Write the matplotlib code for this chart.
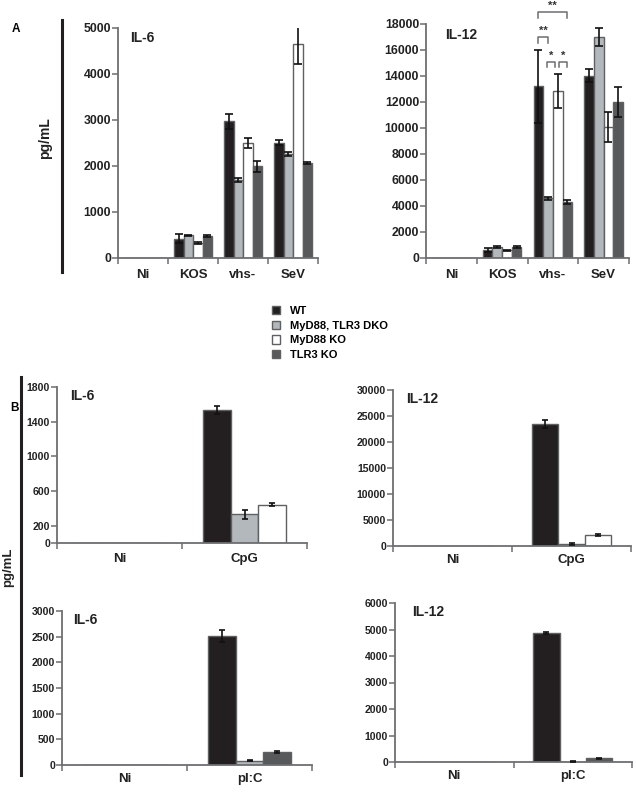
import numpy as np
import matplotlib
matplotlib.use("Agg")
import matplotlib.pyplot as plt
from matplotlib.patches import Patch

plt.rcParams['font.family'] = ['Liberation Sans', 'DejaVu Sans']
plt.rcParams['font.weight'] = 'bold'

# ---------------- data ----------------
genotypes = ["WT", "MyD88, TLR3 DKO", "MyD88 KO", "TLR3 KO"]
colors = ["#231f20", "#b3b8bc", "#ffffff", "#58595b"]

catA = ["Ni", "KOS", "vhs-", "SeV"]
a_il6 = [[0, 0, 0, 0], [420, 490, 320, 480], [2970, 1700, 2500, 1990], [2510, 2260, 4650, 2060]]
a_il6_err = [[0, 0, 0, 0], [100, 20, 20, 20], [160, 50, 100, 120], [50, 50, 430, 25]]
a_il12 = [[0, 0, 0, 0], [590, 840, 590, 840], [13200, 4600, 12850, 4320], [14000, 17000, 10050, 12020]]
a_il12_err = [[0, 0, 0, 0], [150, 50, 50, 50], [2800, 120, 1300, 150], [500, 700, 1150, 1150]]

catB1 = ["Ni", "CpG"]
b1_geno = [0, 1, 2]
b1_il6 = [[0, 0, 0], [1532, 330, 444]]
b1_il6_err = [[0, 0, 0], [45, 55, 22]]
b1_il12 = [[0, 0, 0], [23500, 420, 2050]]
b1_il12_err = [[0, 0, 0], [800, 180, 200]]

catB2 = ["Ni", "pI:C"]
b2_geno = [0, 1, 3]
b2_il6 = [[0, 0, 0], [2520, 80, 250]]
b2_il6_err = [[0, 0, 0], [115, 10, 15]]
b2_il12 = [[0, 0, 0], [4880, 15, 140]]
b2_il12_err = [[0, 0, 0], [35, 5, 15]]

W, H = 636, 797
fig = plt.figure(figsize=(W / 100, H / 100), dpi=100)

SPINE = "#6d6e71"


def rect(l, r, t, b):
    return [l / W, 1 - b / H, (r - l) / W, (b - t) / H]


def panel(r, cats, vals, errs, geno_idx, width, ymax, yticks, title, title_dx,
          tick_fs, cat_fs, cap, cat_pad):
    ax = fig.add_axes(rect(*r))
    vals = np.array(vals, float)
    errs = np.array(errs, float)
    n = len(geno_idx)
    x = np.arange(len(cats))
    for j, g in enumerate(geno_idx):
        pos = x + (j - (n - 1) / 2) * width
        ax.bar(pos, vals[:, j], width=width, color=colors[g], edgecolor="#5f6062",
               linewidth=1.0, zorder=2)
        m = vals[:, j] > 0
        ax.errorbar(pos[m], vals[m, j], yerr=errs[m, j], fmt="none", ecolor="#111111",
                    elinewidth=1.2, capsize=cap, capthick=1.2, zorder=3)
    ax.set_xlim(-0.5, len(cats) - 0.5)
    ax.set_ylim(0, ymax)
    ax.set_yticks(yticks)
    ax.set_yticklabels([str(t) for t in yticks], fontsize=tick_fs, fontweight="bold",
                       color="#222222")
    ax.set_xticks(x)
    ax.set_xticklabels(cats, fontsize=cat_fs, fontweight="bold", color="#222222")
    ax.set_xticks(np.arange(len(cats) + 1) - 0.5, minor=True)
    ax.tick_params(axis="x", which="major", length=0, pad=cat_pad)
    ax.tick_params(axis="x", which="minor", length=4, width=1.1, color=SPINE)
    ax.tick_params(axis="y", length=4, width=1.1, color=SPINE, pad=1)
    for s in ["top", "right"]:
        ax.spines[s].set_visible(False)
    for s in ["left", "bottom"]:
        ax.spines[s].set_color(SPINE)
        ax.spines[s].set_linewidth(1.3)
    ax.set_facecolor("none")
    ax.text(title_dx / (r[1] - r[0]), 0.985, title, transform=ax.transAxes,
            fontsize=cat_fs + 0.5, fontweight="bold", va="top", ha="left", color="#222222")
    return ax


axA1 = panel((118, 318, 28, 258), catA, a_il6, a_il6_err, [0, 1, 2, 3], 0.19, 5000,
             [0, 1000, 2000, 3000, 4000, 5000], "IL-6", 12, 8.8, 9.5, 3, 8)
axA2 = panel((426, 629, 24, 258), catA, a_il12, a_il12_err, [0, 1, 2, 3], 0.19, 18000,
             list(range(0, 18001, 2000)), "IL-12", 19, 8.8, 9.5, 3, 8)
axB1 = panel((57, 307, 387, 543), catB1, b1_il6, b1_il6_err, b1_geno, 0.222, 1800,
             [0, 200, 600, 1000, 1400, 1800], "IL-6", 13, 7.6, 9.5, 2, 7)
axB2 = panel((393, 631, 390, 546), catB1, b1_il12, b1_il12_err, b1_geno, 0.222, 30000,
             list(range(0, 30001, 5000)), "IL-12", 13, 7.6, 9.5, 2, 6)
axB3 = panel((62, 312, 611, 765), catB2, b2_il6, b2_il6_err, b2_geno, 0.222, 3000,
             list(range(0, 3001, 500)), "IL-6", 11, 7.6, 9.5, 2, 6)
axB4 = panel((395, 632, 603, 762), catB2, b2_il12, b2_il12_err, b2_geno, 0.222, 6000,
             list(range(0, 6001, 1000)), "IL-12", 17, 7.6, 9.5, 2, 6)

# significance brackets on IL-12 vhs-
w = 0.19
c = 2 + (np.arange(4) - 1.5) * w
brackets = [(c[0], c[3], 18900, 18450, "**"),
            (c[0], c[1], 17000, 16550, "**"),
            (c[1] - 0.02, c[2] - 0.05, 15080, 14700, "*"),
            (c[2] + 0.02, c[3], 15080, 14700, "*")]
for x0, x1, ytop, ybot, s in brackets:
    axA2.plot([x0, x0, x1, x1], [ybot, ytop, ytop, ybot], color="#6d6e71", lw=1.1,
              clip_on=False)
    axA2.text((x0 + x1) / 2, ytop + 100, s, ha="center", va="bottom", fontsize=8,
              fontweight="bold", color="#333333", clip_on=False)

# side lines, labels
fig.add_artist(plt.Line2D([62 / W, 62 / W], [1 - 20 / H, 1 - 272 / H], color="#231f20", lw=2.2))
fig.add_artist(plt.Line2D([21 / W, 21 / W], [1 - 377 / H, 1 - 775 / H], color="#231f20", lw=2.2))
fig.text(45 / W, 1 - 138 / H, "pg/mL", rotation=90, ha="center", va="center", fontsize=10,
         fontweight="bold", color="#222222")
fig.text(8 / W, 1 - 567 / H, "pg/mL", rotation=90, ha="center", va="center", fontsize=9.5,
         fontweight="bold", color="#222222")
fig.text(12 / W, 1 - 29 / H, "A", ha="left", va="center", fontsize=8.5, fontweight="bold")
fig.text(10 / W, 1 - 408 / H, "B", ha="left", va="center", fontsize=8.5, fontweight="bold")

handles = [Patch(facecolor=colors[i], edgecolor="#5f6062", linewidth=1.0, label=genotypes[i])
           for i in range(4)]
fig.legend(handles=handles, loc="upper left", bbox_to_anchor=(272 / W, 1 - 306 / H),
           frameon=False, handlelength=0.75, handleheight=0.75,
           handletextpad=0.9, labelspacing=0.42, borderpad=0, borderaxespad=0,
           prop={"weight": "bold", "size": 8})

fig.savefig("out.png", dpi=100)
